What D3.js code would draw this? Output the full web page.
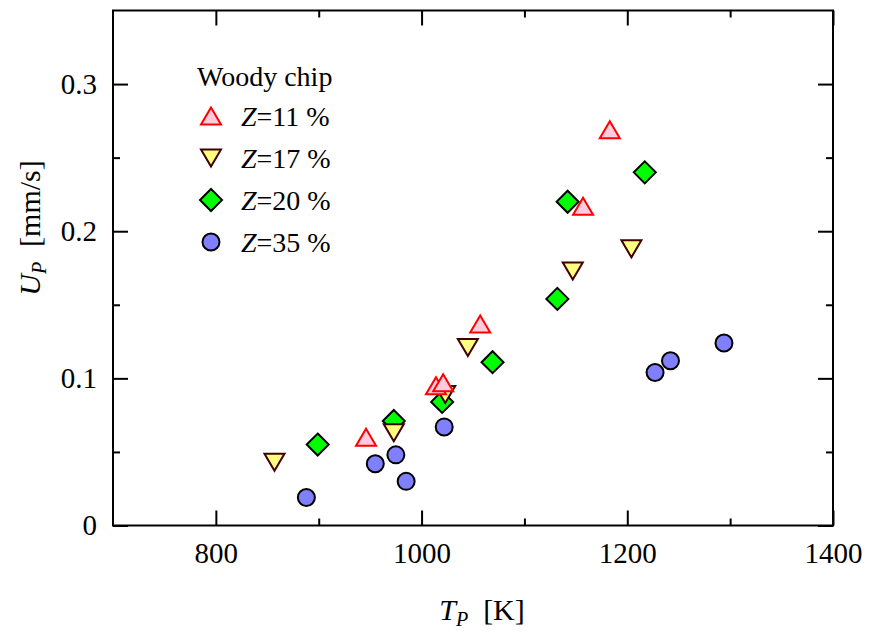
<!DOCTYPE html>
<html>
<head>
<meta charset="utf-8">
<script src="https://cdn.jsdelivr.net/npm/d3@7"></script>
<style>
  body { margin: 0; background: #fff; }
  text { font-family: "Liberation Serif", "Times New Roman", serif; }
</style>
</head>
<body>
<div id="chart"></div>
<script>
// data: [T_P (K), U_P (mm/s)]
var z11 = [[946, 0.060], [1014, 0.095], [1021, 0.097], [1057, 0.137], [1157, 0.217], [1183, 0.269]];
var z17 = [[857, 0.043], [973, 0.063], [1023, 0.089], [1045, 0.121], [1147, 0.173], [1204, 0.188]];
var z20 = [[899, 0.055], [973, 0.071], [1020, 0.084], [1069, 0.111], [1132, 0.154], [1142, 0.220], [1217, 0.240]];
var z35 = [[888, 0.019], [955, 0.042], [975, 0.048], [985, 0.030], [1022, 0.067], [1227, 0.104], [1242, 0.112], [1294, 0.124]];

var legendLabels = ["11", "17", "20", "35"];
var xMajor = [800, 1000, 1200, 1400];
var xMinor = [900, 1100, 1300];
var yMajor = [0, 0.1, 0.2, 0.3];
var yMinor = [0.05, 0.15, 0.25];

var width = 871;
var height = 636;
var margin = {top: 10.5, right: 38, bottom: 110.5, left: 113};

var svg = d3.select("#chart")
    .append("svg")
    .attr("width", width)
    .attr("height", height);

var x = d3.scaleLinear().domain([700, 1400]).range([margin.left, width - margin.right]);
var y = d3.scaleLinear().domain([0, 0.35]).range([height - margin.bottom, margin.top]);

// custom symbols, centred on their bounding box
var triUp = {draw: function(ctx, s) {
    var a = s, b = s * 0.85;
    ctx.moveTo(0, -b); ctx.lineTo(a, b); ctx.lineTo(-a, b); ctx.closePath();
}};
var triDown = {draw: function(ctx, s) {
    var a = s, b = s * 0.85;
    ctx.moveTo(0, b); ctx.lineTo(a, -b); ctx.lineTo(-a, -b); ctx.closePath();
}};
var diamond = {draw: function(ctx, s) {
    ctx.moveTo(0, -s); ctx.lineTo(s, 0); ctx.lineTo(0, s); ctx.lineTo(-s, 0); ctx.closePath();
}};
var circle = {draw: function(ctx, s) {
    ctx.moveTo(s, 0); ctx.arc(0, 0, s, 0, 2 * Math.PI);
}};

var series = [
    {data: z11, type: triUp, size: 10, fill: "#ffccdd", stroke: "#ff0000"},
    {data: z17, type: triDown, size: 10, fill: "#ffff80", stroke: "#400000"},
    {data: z20, type: diamond, size: 11, fill: "#00ff00", stroke: "#000000"},
    {data: z35, type: circle, size: 8.5, fill: "#8080ff", stroke: "#000000"}
];

// axes (ticks point inward)
function fmt(d) { return d === 0 ? "0" : d3.format(".1f")(d); }

svg.append("g")
    .attr("transform", "translate(0," + y(0) + ")")
    .call(d3.axisBottom(x).tickValues(xMajor).tickSizeInner(-15).tickSizeOuter(0).tickPadding(17).tickFormat(d3.format("d")));
svg.append("g")
    .attr("transform", "translate(0," + y(0) + ")")
    .call(d3.axisBottom(x).tickValues(xMinor).tickSizeInner(-7).tickSizeOuter(0).tickFormat(""));
svg.append("g")
    .attr("transform", "translate(0," + margin.top + ")")
    .call(d3.axisTop(x).tickValues(xMajor).tickSizeInner(-15).tickSizeOuter(0).tickFormat(""));
svg.append("g")
    .attr("transform", "translate(0," + margin.top + ")")
    .call(d3.axisTop(x).tickValues(xMinor).tickSizeInner(-7).tickSizeOuter(0).tickFormat(""));

svg.append("g")
    .attr("transform", "translate(" + margin.left + ",0)")
    .call(d3.axisLeft(y).tickValues(yMajor).tickSizeInner(-15).tickSizeOuter(0).tickPadding(16).tickFormat(fmt));
svg.append("g")
    .attr("transform", "translate(" + margin.left + ",0)")
    .call(d3.axisLeft(y).tickValues(yMinor).tickSizeInner(-7).tickSizeOuter(0).tickFormat(""));
svg.append("g")
    .attr("transform", "translate(" + (width - margin.right) + ",0)")
    .call(d3.axisRight(y).tickValues(yMajor).tickSizeInner(-15).tickSizeOuter(0).tickFormat(""));
svg.append("g")
    .attr("transform", "translate(" + (width - margin.right) + ",0)")
    .call(d3.axisRight(y).tickValues(yMinor).tickSizeInner(-7).tickSizeOuter(0).tickFormat(""));

svg.selectAll(".domain").remove();
svg.selectAll(".tick line").attr("stroke", "#000").attr("stroke-width", 2);
svg.selectAll(".tick text")
    .attr("font-size", "29px")
    .attr("fill", "#000");

// frame
svg.append("rect")
    .attr("x", x(700))
    .attr("y", y(0.35))
    .attr("width", x(1400) - x(700))
    .attr("height", y(0) - y(0.35))
    .attr("fill", "none")
    .attr("stroke", "#000")
    .attr("stroke-width", 2);

// points: circles first, up-triangles last
[3, 2, 1, 0].forEach(function(i) {
    var s = series[i];
    svg.append("g")
        .selectAll("path")
        .data(s.data)
        .enter()
        .append("path")
        .attr("d", d3.symbol().type(s.type).size(s.size))
        .attr("transform", function(d) { return "translate(" + x(d[0]) + "," + y(d[1]) + ")"; })
        .attr("fill", s.fill)
        .attr("stroke", s.stroke)
        .attr("stroke-width", 2);
});

// legend
var leg = svg.append("g");
leg.append("text")
    .attr("x", 197)
    .attr("y", 86)
    .attr("font-size", "28px")
    .text("Woody chip");

var rows = leg.selectAll(".row")
    .data(series)
    .enter()
    .append("g")
    .attr("class", "row")
    .attr("transform", function(d, i) { return "translate(0," + (116 + i * 42) + ")"; });

rows.append("path")
    .attr("d", function(d) { return d3.symbol().type(d.type).size(d.size)(); })
    .attr("transform", "translate(211,0)")
    .attr("fill", function(d) { return d.fill; })
    .attr("stroke", function(d) { return d.stroke; })
    .attr("stroke-width", 2);

var lt = rows.append("text")
    .attr("x", 241)
    .attr("y", 10)
    .attr("font-size", "28px");
lt.append("tspan").attr("font-style", "italic").text("Z");
lt.append("tspan").text(function(d, i) { return "=" + legendLabels[i] + " %"; });

// axis titles
var xt = svg.append("text")
    .attr("x", 482)
    .attr("y", 620)
    .attr("text-anchor", "middle")
    .attr("font-size", "30px");
xt.append("tspan").attr("font-style", "italic").text("T");
xt.append("tspan").attr("font-style", "italic").attr("font-size", "20px").attr("dy", 6).text("P");
xt.append("tspan").attr("dy", -6).text("\u00a0 [K]");

var yt = svg.append("text")
    .attr("transform", "translate(40,228) rotate(-90)")
    .attr("text-anchor", "middle")
    .attr("font-size", "30px");
yt.append("tspan").attr("font-style", "italic").text("U");
yt.append("tspan").attr("font-style", "italic").attr("font-size", "20px").attr("dy", 6).text("P");
yt.append("tspan").attr("dy", -6).text("\u00a0 [mm/s]");
</script>
</body>
</html>
